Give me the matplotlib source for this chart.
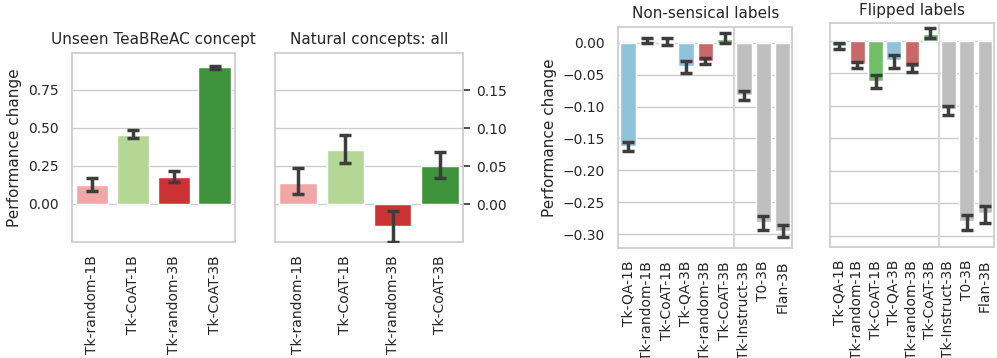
import numpy as np
import matplotlib
matplotlib.use("Agg")
import matplotlib.pyplot as plt
import seaborn as sns

sns.set_theme(style="whitegrid")
plt.rcParams['font.family'] = ['DejaVu Sans']

# left pair: unseen concept / natural concepts
models_left = ["Tk-random-1B", "Tk-CoAT-1B", "Tk-random-3B", "Tk-CoAT-3B"]
colors_left = ["#f2a7a7", "#b4d795", "#cc3234", "#3f943b"]

unseen_val = [0.125, 0.454, 0.178, 0.899]
unseen_lo = [0.088, 0.436, 0.147, 0.890]
unseen_hi = [0.169, 0.487, 0.219, 0.910]

natural_val = [0.0285, 0.071, -0.0285, 0.0504]
natural_lo = [0.013, 0.0535, -0.050, 0.0346]
natural_hi = [0.0478, 0.0904, -0.0083, 0.068]

# right pair: label perturbations
models_right = ["Tk-QA-1B", "Tk-random-1B", "Tk-CoAT-1B", "Tk-QA-3B", "Tk-random-3B",
                "Tk-CoAT-3B", "Tk-Instruct-3B", "T0-3B", "Flan-3B"]
colors_right = ["#8fc3da", "#c96868", "#72bf6a", "#8fc3da", "#c96868",
                "#72bf6a", "#bfbfbf", "#bfbfbf", "#bfbfbf"]

nonsense_val = [-0.162, 0.002, 0.001, -0.0365, -0.029, 0.006, -0.082, -0.2815, -0.2946]
nonsense_lo = [-0.170, -0.001, -0.003, -0.048, -0.034, 0.000, -0.090, -0.293, -0.305]
nonsense_hi = [-0.155, 0.008, 0.008, -0.028, -0.024, 0.015, -0.075, -0.272, -0.286]

flipped_val = [-0.0077, -0.036, -0.0617, -0.030, -0.0396, 0.0103, -0.1055, -0.277, -0.265]
flipped_lo = [-0.0123, -0.042, -0.073, -0.042, -0.0474, 0.004, -0.114, -0.291, -0.281]
flipped_hi = [-0.004, -0.032, -0.053, -0.0216, -0.035, 0.0195, -0.101, -0.268, -0.254]


def bars(ax, names, vals, lo, hi, cols):
    x = np.arange(len(names))
    vals = np.array(vals)
    yerr = [vals - np.array(lo), np.array(hi) - vals]
    ax.bar(x, vals, width=0.8, color=cols, edgecolor="white", linewidth=1, zorder=2)
    ax.errorbar(x, vals, yerr=yerr, fmt="none", ecolor="#3d3d3d", elinewidth=2.5,
                capsize=4, capthick=2.5, zorder=3)
    ax.set_xticks(x)
    ax.set_xticklabels(names, rotation=90, fontsize=10)
    ax.set_xlim(-0.5, len(names) - 0.5)
    ax.grid(axis="x", visible=False)
    ax.tick_params(axis="y", labelsize=10)
    for s in ax.spines.values():
        s.set_color("#cccccc")


fig = plt.figure(figsize=(9.97, 3.58), dpi=100)

ax1 = fig.add_axes([0.0719, 0.3232, 0.1641, 0.5296])
bars(ax1, models_left, unseen_val, unseen_lo, unseen_hi, colors_left)
ax1.set_ylim(-0.252, 0.995)
ax1.set_yticks([0.0, 0.25, 0.5, 0.75])
ax1.set_yticklabels(["0.00", "0.25", "0.50", "0.75"])
ax1.set_title("Unseen TeaBReAC concept", fontsize=11)
ax1.set_ylabel("Performance change", fontsize=11)

ax2 = fig.add_axes([0.2755, 0.3232, 0.1892, 0.5296])
bars(ax2, models_left, natural_val, natural_lo, natural_hi, colors_left)
ax2.set_ylim(-0.05, 0.199)
ax2.set_yticks([0.0, 0.05, 0.10, 0.15])
ax2.set_yticklabels(["0.00", "0.05", "0.10", "0.15"])
ax2.yaxis.tick_right()
ax2.tick_params(axis="y", right=True, length=5, width=1.2, color="#333333", pad=4)
ax2.set_title("Natural concepts: all", fontsize=11)

ax3 = fig.add_axes([0.6202, 0.3081, 0.1745, 0.6173])
bars(ax3, models_right, nonsense_val, nonsense_lo, nonsense_hi, colors_right)
ax3.set_ylim(-0.321, 0.025)
ax3.set_yticks(np.arange(-0.30, 0.001, 0.05))
ax3.set_yticklabels(["\u22120.30", "\u22120.25", "\u22120.20", "\u22120.15",
                     "\u22120.10", "\u22120.05", "0.00"])
ax3.axvline(5.5, color="#d5d5d5", linewidth=1.5, zorder=1)
ax3.set_title("Non-sensical labels", fontsize=11)
ax3.set_ylabel("Performance change", fontsize=11)

ax4 = fig.add_axes([0.8325, 0.3109, 0.1645, 0.624])
bars(ax4, models_right, flipped_val, flipped_lo, flipped_hi, colors_right)
ax4.set_ylim(-0.317, 0.027)
ax4.set_yticks(np.arange(-0.30, 0.001, 0.05))
ax4.set_yticklabels([])
ax4.axvline(5.5, color="#d5d5d5", linewidth=1.5, zorder=1)
ax4.set_title("Flipped labels", fontsize=11)

fig.savefig("out.png", dpi=100)
